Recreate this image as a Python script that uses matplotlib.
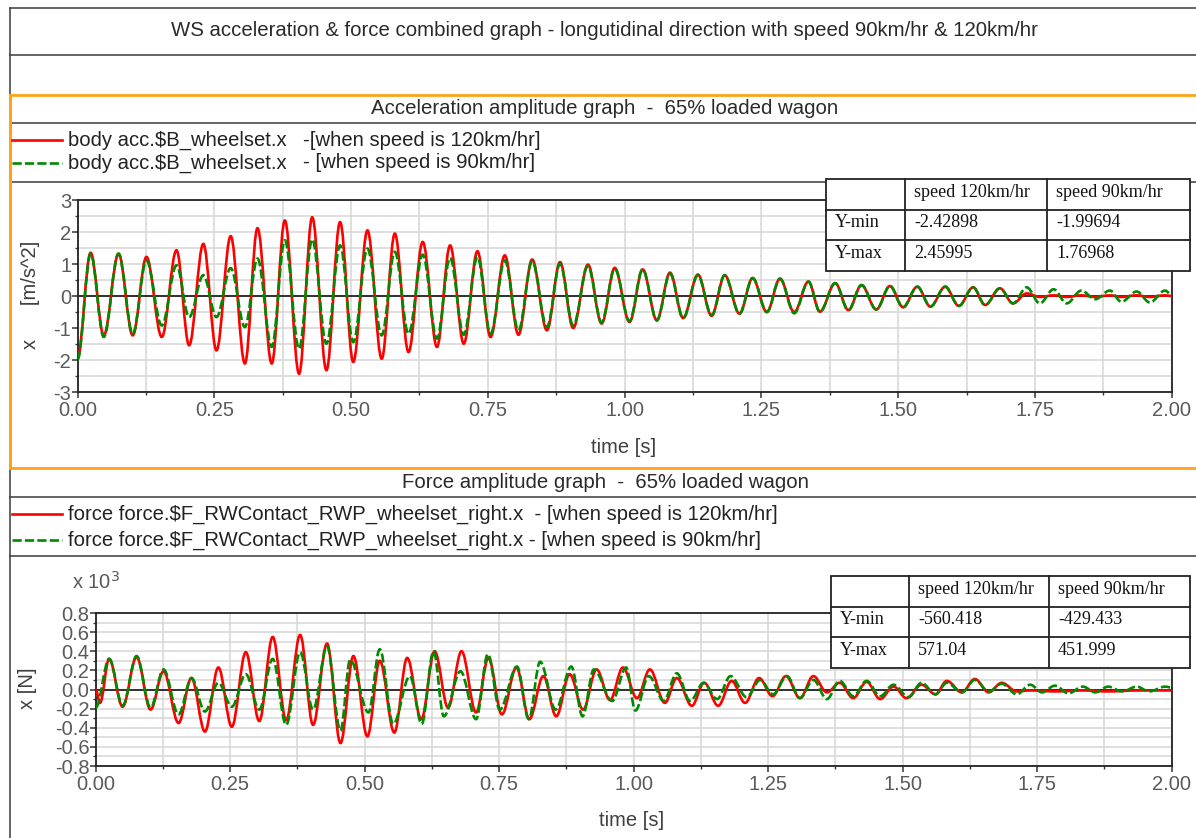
import matplotlib
matplotlib.use("Agg")
import matplotlib.pyplot as plt
from matplotlib.path import Path
from matplotlib.patches import PathPatch, Rectangle
from matplotlib.lines import Line2D
from matplotlib.ticker import MultipleLocator, FormatStrFormatter

#-----------------------------------------------------------------------------------------------------------------------
# data (extrema of each oscillation)
acc_t = [0.000, 0.024, 0.048, 0.075, 0.101, 0.126, 0.154, 0.181, 0.204, 0.230, 0.254,
         0.280, 0.306, 0.329, 0.355, 0.379, 0.405, 0.429, 0.455, 0.480, 0.504,
         0.530, 0.556, 0.580, 0.605, 0.631, 0.657, 0.681, 0.706, 0.731, 0.755,
         0.781, 0.806, 0.831, 0.858, 0.882, 0.906, 0.933, 0.958, 0.982, 1.009,
         1.033, 1.059, 1.083, 1.107, 1.134, 1.159, 1.183, 1.210, 1.234, 1.260,
         1.284, 1.310, 1.336, 1.357, 1.385, 1.409, 1.433, 1.460, 1.485, 1.509,
         1.535, 1.559, 1.586, 1.611, 1.637, 1.659, 1.686, 1.710, 1.735, 1.759,
         1.784, 1.808, 1.835, 1.860, 1.887, 1.908, 1.936, 1.960, 1.988, 2.000]
acc_120 = [-1.95, 1.35, -1.23, 1.32, -1.23, 1.22, -1.28, 1.43, -1.54, 1.63, -1.70,
           1.87, -2.11, 2.12, -2.11, 2.36, -2.43, 2.46, -2.32, 2.31, -2.06,
           2.05, -1.96, 1.95, -1.75, 1.69, -1.59, 1.58, -1.49, 1.40, -1.28,
           1.27, -1.21, 1.14, -1.07, 1.06, -1.00, 0.98, -0.86, 0.88, -0.81,
           0.83, -0.76, 0.73, -0.69, 0.67, -0.62, 0.65, -0.55, 0.56, -0.50,
           0.54, -0.50, 0.45, -0.49, 0.40, -0.44, 0.34, -0.42, 0.31, -0.35,
           0.29, -0.33, 0.29, -0.31, 0.27, -0.28, 0.24, -0.23, 0.08, -0.03,
           0.02, -0.03, 0.02, -0.03, 0.02, -0.03, 0.02, -0.03, 0.02, 0.00]
acc_90 = [-1.99, 1.32, -1.28, 1.32, -1.18, 1.11, -0.92, 0.96, -0.66, 0.65, -0.66,
          0.87, -0.97, 1.17, -1.59, 1.74, -1.65, 1.77, -1.49, 1.58, -1.44,
          1.48, -1.23, 1.38, -1.18, 1.29, -1.33, 1.19, -1.21, 1.22, -1.18,
          1.11, -1.07, 1.08, -0.97, 1.01, -0.92, 0.94, -0.83, 0.85, -0.79,
          0.83, -0.76, 0.70, -0.69, 0.65, -0.60, 0.65, -0.55, 0.56, -0.50,
          0.54, -0.54, 0.45, -0.49, 0.40, -0.44, 0.34, -0.42, 0.31, -0.35,
          0.29, -0.33, 0.29, -0.31, 0.27, -0.28, 0.24, -0.23, 0.27, -0.23,
          0.21, -0.23, 0.17, -0.10, 0.17, -0.18, 0.14, -0.20, 0.17, 0.03]

# force in units of 10^3 N
force_t_120 = [0.000, 0.008, 0.025, 0.050, 0.076, 0.102, 0.126, 0.154, 0.178, 0.203, 0.228,
               0.253, 0.279, 0.304, 0.329, 0.354, 0.380, 0.404, 0.430, 0.455, 0.479,
               0.505, 0.528, 0.555, 0.579, 0.605, 0.630, 0.655, 0.680, 0.707, 0.730,
               0.755, 0.782, 0.806, 0.832, 0.856, 0.881, 0.906, 0.931, 0.956, 0.980,
               1.006, 1.030, 1.058, 1.080, 1.108, 1.131, 1.157, 1.182, 1.207, 1.233,
               1.258, 1.283, 1.309, 1.334, 1.359, 1.383, 1.408, 1.433, 1.458, 1.483,
               1.507, 1.535, 1.561, 1.582, 1.610, 1.634, 1.660, 1.684, 1.712, 1.737,
               1.783, 1.835, 1.882, 1.935, 2.000]
force_120 = [0.00, -0.14, 0.32, -0.18, 0.34, -0.21, 0.19, -0.35, 0.12, -0.44, 0.23,
             -0.39, 0.39, -0.33, 0.55, -0.32, 0.57, -0.37, 0.48, -0.56, 0.35,
             -0.49, 0.30, -0.45, 0.33, -0.31, 0.40, -0.19, 0.40, -0.24, 0.33,
             -0.26, 0.23, -0.31, 0.14, -0.28, 0.16, -0.21, 0.21, -0.11, 0.23,
             -0.09, 0.21, -0.14, 0.12, -0.17, 0.07, -0.17, 0.09, -0.14, 0.12,
             -0.07, 0.14, -0.09, 0.14, -0.03, 0.07, -0.09, 0.08, -0.10, 0.03,
             -0.09, 0.05, -0.05, 0.09, -0.03, 0.11, -0.03, 0.07, -0.02, -0.01,
             -0.02, -0.01, -0.02, -0.01, -0.01]
force_t_90 = [0.000, 0.025, 0.050, 0.076, 0.102, 0.126, 0.154, 0.178, 0.203, 0.228,
              0.253, 0.279, 0.304, 0.329, 0.354, 0.380, 0.404, 0.430, 0.455, 0.473,
              0.507, 0.528, 0.553, 0.584, 0.606, 0.628, 0.647, 0.678, 0.707, 0.729,
              0.751, 0.783, 0.805, 0.826, 0.855, 0.884, 0.905, 0.926, 0.960, 0.986,
              1.003, 1.028, 1.056, 1.080, 1.105, 1.130, 1.155, 1.180, 1.210, 1.235,
              1.259, 1.285, 1.309, 1.334, 1.359, 1.383, 1.408, 1.433, 1.458, 1.483,
              1.511, 1.535, 1.561, 1.582, 1.610, 1.634, 1.660, 1.684, 1.712, 1.737,
              1.759, 1.783, 1.808, 1.835, 1.858, 1.882, 1.908, 1.935, 1.958, 1.988,
              2.000]
force_90 = [-0.19, 0.32, -0.17, 0.35, -0.19, 0.21, -0.26, 0.12, -0.23, 0.07,
            -0.18, 0.16, -0.21, 0.32, -0.37, 0.39, -0.21, 0.45, -0.43, 0.31,
            -0.24, 0.42, -0.36, 0.14, -0.36, 0.40, -0.28, 0.19, -0.31, 0.37,
            -0.21, 0.24, -0.31, 0.29, -0.21, 0.24, -0.28, 0.21, -0.12, 0.23,
            -0.22, 0.14, -0.12, 0.17, -0.12, 0.07, -0.10, 0.14, -0.08, 0.10,
            -0.05, 0.14, -0.09, 0.10, -0.10, 0.09, -0.07, 0.09, -0.07, 0.05,
            -0.08, 0.07, -0.05, 0.07, -0.03, 0.10, -0.02, 0.06, -0.05, 0.05,
            -0.03, 0.04, -0.04, 0.03, -0.03, 0.03, -0.02, 0.03, -0.02, 0.03,
            0.02]

table_cols = ["", "speed 120km/hr", "speed 90km/hr"]
acc_table = [["Y-min", "-2.42898", "-1.99694"], ["Y-max", "2.45995", "1.76968"]]
force_table = [["Y-min", "-560.418", "-429.433"], ["Y-max", "571.04", "451.999"]]

title = "WS acceleration & force combined graph - longutidinal direction with speed 90km/hr & 120km/hr"

#-----------------------------------------------------------------------------------------------------------------------
plt.rcParams['font.family'] = ['Liberation Sans', 'DejaVu Sans']
plt.rcParams['axes.unicode_minus'] = False

W, H = 1196, 838
RED, GREEN, ORANGE, DARK = "#ff0000", "#008a00", "#ffa21a", "#3a3a3a"
DASH = (0, (3.5, 1.2))

fig = plt.figure(figsize=(W / 100, H / 100), dpi=100)
renderer = fig.canvas.get_renderer()

def fx(x): return x / W
def fy(y): return 1 - y / H

def hline(y, x0=10, x1=W, color=DARK, lw=1.1, z=1):
    fig.add_artist(Line2D([fx(x0), fx(x1)], [fy(y), fy(y)], transform=fig.transFigure, color=color, lw=lw, zorder=z))

def vline(x, y0, y1, color=DARK, lw=1.1, z=1):
    fig.add_artist(Line2D([fx(x), fx(x)], [fy(y0), fy(y1)], transform=fig.transFigure, color=color, lw=lw, zorder=z))

def text(x, y, s, width=None, **kw):
    t = fig.text(fx(x), fy(y), s, **kw)
    if width:
        w = t.get_window_extent(renderer).width
        t.set_fontsize(t.get_fontsize() * width / w)
    return t

def smooth(t, v):
    # bezier through the extrema, flat tangent at each one
    verts, codes = [(t[0], v[0])], [Path.MOVETO]
    for i in range(1, len(t)):
        d = 0.36 * (t[i] - t[i - 1])
        verts += [(t[i - 1] + d, v[i - 1]), (t[i] - d, v[i]), (t[i], v[i])]
        codes += [Path.CURVE4] * 3
    return Path(verts, codes)

def draw_table(x0, y0, cw, rh, rows):
    xs = [x0, x0 + cw[0], x0 + cw[0] + cw[1], x0 + sum(cw)]
    ys = [y0, y0 + rh[0], y0 + rh[0] + rh[1], y0 + sum(rh)]
    fig.add_artist(Rectangle((fx(xs[0]), fy(ys[3])), sum(cw) / W, sum(rh) / H, transform=fig.transFigure,
                             facecolor="white", edgecolor="#222222", lw=1.3, zorder=5))
    for x in xs[1:3]:
        vline(x, ys[0], ys[3], color="#222222", lw=1.3, z=6)
    for y in ys[1:3]:
        hline(y, xs[0], xs[3], color="#222222", lw=1.3, z=6)
    for i, row in enumerate(rows):
        for j, s in enumerate(row):
            text(xs[j] + 9, ys[i] + rh[i] * 0.42, s, family="Liberation Serif", fontsize=13,
                 va="center", ha="left", color="#111111", zorder=7)

def setup_axes(ax, ylim, ymaj, ymin, yfmt):
    ax.set_xlim(0, 2)
    ax.set_ylim(*ylim)
    ax.xaxis.set_major_locator(MultipleLocator(0.25))
    ax.xaxis.set_minor_locator(MultipleLocator(0.125))
    ax.xaxis.set_major_formatter(FormatStrFormatter("%.2f"))
    ax.yaxis.set_major_locator(MultipleLocator(ymaj))
    ax.yaxis.set_minor_locator(MultipleLocator(ymin))
    ax.yaxis.set_major_formatter(FormatStrFormatter(yfmt))
    ax.set_axisbelow(True)
    ax.grid(True, which="both", color="#d6d6d6", lw=1.1)
    ax.axhline(0, color="black", lw=1.1, zorder=1)
    ax.tick_params(which="major", direction="out", length=4, width=1.1, pad=0.5,
                   labelsize=14.5, labelcolor="#5a5a5a", color="#333333")
    ax.tick_params(axis="x", which="major", pad=2.5)
    ax.tick_params(which="minor", direction="out", length=2.5, width=1.0, color="#333333")
    for s in ax.spines.values():
        s.set_color("#222222")
        s.set_linewidth(1.3)

def plot_pair(ax, t1, v1, t2, v2):
    ax.add_patch(PathPatch(smooth(t1, v1), fill=False, edgecolor=RED, lw=1.9, zorder=3))
    ax.add_patch(PathPatch(smooth(t2, v2), fill=False, edgecolor=GREEN, lw=1.9, linestyle=DASH, zorder=4))

#-----------------------------------------------------------------------------------------------------------------------
# frame lines
vline(10, 8, H)
for y in (8, 55, 123, 182, 497, 556):
    hline(y)
for y in (95, 468):
    hline(y, color=ORANGE, lw=2.0, z=2)
vline(10, 95, 468, color=ORANGE, lw=2.2, z=2)

text(604, 31, title, width=864, ha="center", va="center", fontsize=13, color="#2a2a2a")
text(605, 108, "Acceleration amplitude graph  -  65% loaded wagon", width=466,
     ha="center", va="center", fontsize=13, color="#2a2a2a")
text(605, 482, "Force amplitude graph  -  65% loaded wagon", width=406,
     ha="center", va="center", fontsize=13, color="#2a2a2a")

# legends
for y, col, ls in ((140, RED, "-"), (163, GREEN, DASH), (514, RED, "-"), (540, GREEN, DASH)):
    fig.add_artist(Line2D([fx(12), fx(62)], [fy(y), fy(y)], transform=fig.transFigure,
                          color=col, lw=1.9, linestyle=ls, zorder=3))
t = text(68, 140, "body acc.\\$B_wheelset.x", width=220, va="center", fontsize=14, color="#222222")
fs = t.get_fontsize()
text(68, 163, "body acc.\\$B_wheelset.x", va="center", fontsize=fs, color="#222222")
text(303, 140, "-[when speed is 120km/hr]", va="center", fontsize=fs, color="#222222")
text(303, 163, "- [when speed is 90km/hr]", va="center", fontsize=fs, color="#222222")
narrow = ["Liberation Sans Narrow", "Liberation Sans"]
t = text(68, 514, "force force.\\$F_RWContact_RWP_wheelset_right.x  - [when speed is 120km/hr]", width=714,
         va="center", fontsize=14, family=narrow, color="#222222")
text(68, 540, "force force.\\$F_RWContact_RWP_wheelset_right.x - [when speed is 90km/hr]",
     va="center", fontsize=t.get_fontsize(), family=narrow, color="#222222")

# acceleration axes
ax1 = fig.add_axes([fx(77.5), fy(392), (1171.7 - 77.5) / W, (392 - 200) / H])
setup_axes(ax1, (-3, 3), 1, 0.5, "%d")
plot_pair(ax1, acc_t, acc_120, acc_t, acc_90)
text(624, 447, "time [s]", ha="center", va="center", fontsize=14.5, color="#404040")
text(30, 295, "x      [m/s^2]", ha="center", va="center", rotation=90, fontsize=14.5, color="#404040")

# force axes
ax2 = fig.add_axes([fx(95.7), fy(766), (1171.7 - 95.7) / W, (766 - 613) / H])
setup_axes(ax2, (-0.8, 0.8), 0.2, 0.1, "%.1f")
plot_pair(ax2, force_t_120, force_120, force_t_90, force_90)
text(632, 820, "time [s]", ha="center", va="center", fontsize=14.5, color="#404040")
text(28, 688, "x [N]", ha="center", va="center", rotation=90, fontsize=14.5, color="#404040")
text(72, 582, "x 10$^3$", ha="left", va="center", fontsize=14.5, color="#5a5a5a")

# stats tables
draw_table(826, 179, [79, 142, 143], [31, 30, 31], [table_cols] + acc_table)
draw_table(831, 576, [78, 140, 141], [31, 30, 31], [table_cols] + force_table)

fig.savefig("out.png", dpi=100)
